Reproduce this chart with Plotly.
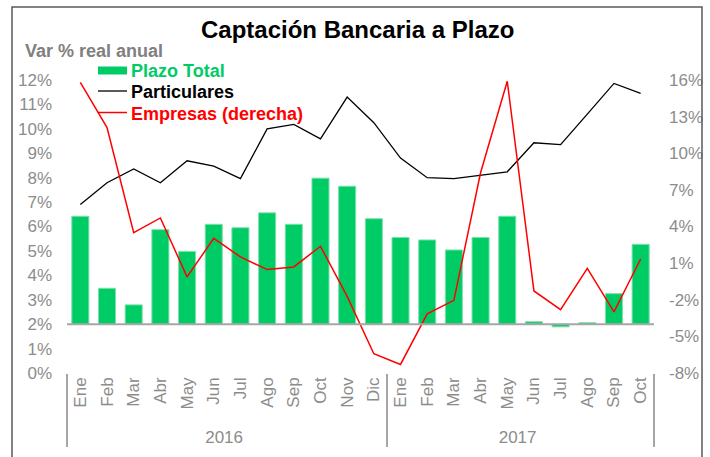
import plotly.graph_objects as go

years = ["2016"] * 12 + ["2017"] * 10
months = ["Ene", "Feb", "Mar", "Abr", "May", "Jun", "Jul", "Ago", "Sep", "Oct", "Nov", "Dic",
          "Ene", "Feb", "Mar", "Abr", "May", "Jun", "Jul", "Ago", "Sep", "Oct"]

plazo_total = [6.42, 3.47, 2.79, 5.87, 4.98, 6.09, 5.95, 6.56, 6.09, 7.98, 7.65, 6.32,
               5.55, 5.45, 5.04, 5.55, 6.42, 2.10, 1.89, 2.06, 3.25, 5.27]
particulares = [6.90, 7.79, 8.36, 7.79, 8.69, 8.47, 7.96, 10.0, 10.18, 9.59, 11.30, 10.25,
                8.80, 8.00, 7.96, 8.11, 8.24, 9.43, 9.35, 10.6, 11.86, 11.45]
empresas = [15.8, 12.1, 3.5, 4.7, -0.13, 3.03, 1.51, 0.47, 0.69, 2.38, -1.72, -6.42,
            -7.3, -3.16, -2.05, 8.4, 15.9, -1.28, -2.81, 0.57, -3.0, 1.34]

left_ticks = list(range(0, 13))
left_labels = [f"{v}%" for v in left_ticks]
right_ticks = list(range(-8, 17, 3))
right_labels = [f"{v}%" for v in right_ticks]
axis_cross = 2  # horizontal axis crosses the left axis at 2%

GREEN = "#00CC66"
GRAY = "#8C8C8C"
FONT = "Liberation Sans, Arial, sans-serif"

W, H = 710, 457
ML, MR, MT, MB = 67, 56, 80, 84
PW, PH = W - ML - MR, H - MT - MB


def px(x):
    return (x - ML) / PW


def py(y):
    return (H - MB - y) / PH


x = [years, months]

fig = go.Figure()
fig.add_trace(go.Bar(
    x=x, y=[v - axis_cross for v in plazo_total], base=axis_cross,
    marker=dict(color=GREEN, line=dict(color="#7FE0AE", width=1)),
    name="Plazo Total", showlegend=False,
))
fig.add_trace(go.Scatter(
    x=x, y=particulares, mode="lines", line=dict(color="black", width=1.3),
    name="Particulares", showlegend=False,
))
fig.add_trace(go.Scatter(
    x=x, y=empresas, mode="lines", line=dict(color="#FF0000", width=1.5),
    name="Empresas (derecha)", yaxis="y2", showlegend=False,
))

shapes = [
    dict(type="line", xref="paper", yref="y", x0=0, x1=1, y0=axis_cross, y1=axis_cross,
         line=dict(color="#A6A6A6", width=2)),
    dict(type="rect", xref="paper", yref="paper", x0=px(12), x1=px(702), y0=py(7), y1=py(470),
         line=dict(color="#595959", width=1.5), layer="above"),
    dict(type="rect", xref="paper", yref="paper", x0=px(98), x1=px(127), y0=py(66.5), y1=py(74.5),
         fillcolor=GREEN, line=dict(width=0)),
    dict(type="line", xref="paper", yref="paper", x0=px(98), x1=px(127), y0=py(91), y1=py(91),
         line=dict(color="black", width=1.3)),
    dict(type="line", xref="paper", yref="paper", x0=px(98), x1=px(127), y0=py(112.5), y1=py(112.5),
         line=dict(color="#FF0000", width=1.5)),
]

annotations = [
    dict(text="<b>Captación Bancaria a Plazo</b>", xref="paper", yref="paper",
         x=px(357), y=py(30), xanchor="center", yanchor="middle", showarrow=False,
         font=dict(size=24, color="black", family=FONT)),
    dict(text="<b>Var % real anual</b>", xref="paper", yref="paper",
         x=px(23), y=py(51), xanchor="left", yanchor="middle", showarrow=False,
         font=dict(size=18, color="#808080", family=FONT)),
    dict(text="<b>Plazo Total</b>", xref="paper", yref="paper",
         x=px(129), y=py(70.5), xanchor="left", yanchor="middle", showarrow=False,
         font=dict(size=18, color=GREEN, family=FONT)),
    dict(text="<b>Particulares</b>", xref="paper", yref="paper",
         x=px(129), y=py(92), xanchor="left", yanchor="middle", showarrow=False,
         font=dict(size=18, color="black", family=FONT)),
    dict(text="<b>Empresas (derecha)</b>", xref="paper", yref="paper",
         x=px(129), y=py(113.5), xanchor="left", yanchor="middle", showarrow=False,
         font=dict(size=18, color="#FF0000", family=FONT)),
]

fig.update_layout(
    width=W, height=H,
    margin=dict(l=ML, r=MR, t=MT, b=MB, pad=0, autoexpand=False),
    paper_bgcolor="white", plot_bgcolor="white",
    font=dict(family=FONT, color=GRAY, size=17),
    bargap=0.36,
    showlegend=False,
    shapes=shapes,
    annotations=annotations,
    xaxis=dict(
        type="multicategory", tickangle=-90, showgrid=False, showline=False, zeroline=False,
        ticks="", tickfont=dict(size=17, color=GRAY), automargin=False,
        showdividers=True, dividercolor="#A6A6A6", dividerwidth=1.5,
    ),
    yaxis=dict(
        range=[0, 12], tickmode="array", tickvals=left_ticks, ticktext=left_labels,
        showgrid=False, zeroline=False, automargin=False,
        showline=False, ticks="", ticklabelstandoff=14, tickfont=dict(size=17, color=GRAY),
    ),
    yaxis2=dict(
        range=[-8, 16], tickmode="array", tickvals=right_ticks, ticktext=right_labels,
        overlaying="y", side="right", automargin=False,
        showgrid=False, zeroline=False, showline=False, ticks="", ticklabelstandoff=14,
        tickfont=dict(size=17, color=GRAY),
    ),
)

fig.write_html("out.html", config={"displayModeBar": False},
               post_script="document.body.style.margin='0';")
